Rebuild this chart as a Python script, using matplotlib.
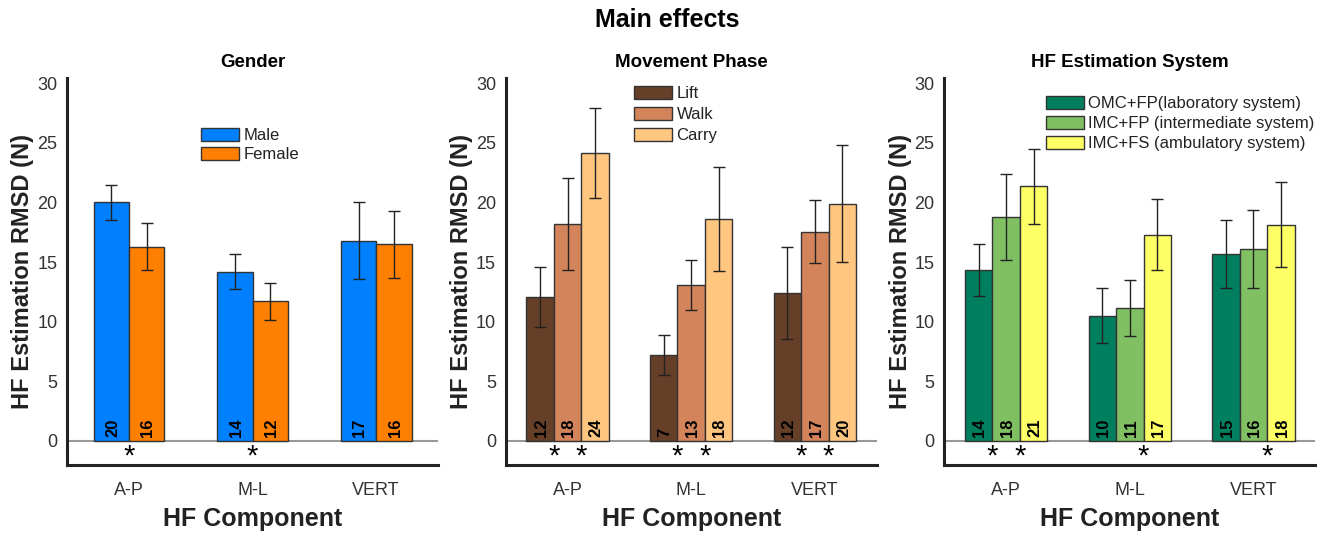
import matplotlib
matplotlib.use("Agg")
import matplotlib.pyplot as plt
import numpy as np

plt.rcParams['font.family'] = ['Liberation Sans', 'DejaVu Sans']

components = ["A-P", "M-L", "VERT"]

# Panel 1: Gender
gender_names = ["Male", "Female"]
gender_means = [[20.0, 14.2, 16.8], [16.3, 11.7, 16.5]]
gender_err = [[1.5, 1.5, 3.25], [2.0, 1.55, 2.8]]
gender_labels = [["20", "14", "17"], ["16", "12", "16"]]
gender_colors = ["#0080FF", "#FF8000"]
gender_sig = [(0, 0), (1, 0)]

# Panel 2: Movement phase
phase_names = ["Lift", "Walk", "Carry"]
phase_means = [[12.05, 7.2, 12.4], [18.2, 13.05, 17.55], [24.15, 18.6, 19.9]]
phase_err = [[2.5, 1.65, 3.9], [3.85, 2.1, 2.65], [3.8, 4.35, 4.9]]
phase_labels = [["12", "7", "12"], ["18", "13", "17"], ["24", "18", "20"]]
phase_colors = ["#653F28", "#D4845A", "#FFC67F"]
phase_sig = [(0, 0), (0, 1), (1, 0), (1, 1), (2, 0), (2, 1)]

# Panel 3: HF estimation system
system_names = ["OMC+FP(laboratory system)", "IMC+FP (intermediate system)",
                "IMC+FS (ambulatory system)"]
system_means = [[14.35, 10.5, 15.65], [18.75, 11.1, 16.1], [21.35, 17.3, 18.15]]
system_err = [[2.2, 2.3, 2.85], [3.6, 2.35, 3.25], [3.15, 3.0, 3.6]]
system_labels = [["14", "10", "15"], ["18", "11", "16"], ["21", "17", "18"]]
system_colors = ["#007F5F", "#80C063", "#FFFF66"]
system_sig = [(0, 0), (0, 1), (1, 1), (2, 1)]

yticks = [0, 5, 10, 15, 20, 25, 30]

fig = plt.figure(figsize=(13.35, 5.38), dpi=100)
fig.suptitle("Main effects", fontsize=18, fontweight='bold', y=0.985)

W, H = 1335.0, 538.0
panels = [
    (67, "Gender", gender_names, gender_means, gender_err, gender_labels, gender_colors, gender_sig, (0.361, 0.872), 0.22),
    (505.7, "Movement Phase", phase_names, phase_means, phase_err, phase_labels, phase_colors, phase_sig, (0.346, 0.98), 0.34),
    (944.3, "HF Estimation System", system_names, system_means, system_err, system_labels, system_colors, system_sig, (0.274, 0.954), 0.28),
]

x = np.arange(1, len(components) + 1)
for left, title, names, means, errs, labels, colors, sig, legpos, lsp in panels:
    ax = fig.add_axes([left / W, (H - 465) / H, 371 / W, 387 / H])
    n = len(names)
    gw = n / (n + 1.5)
    w = gw / n
    offsets = [(i - (n - 1) / 2) * w for i in range(n)]
    ax.axhline(0, color='#999999', lw=1.5, zorder=1)
    for i in range(n):
        xs = x + offsets[i]
        ax.bar(xs, means[i], width=w, color=colors[i], edgecolor='#333333',
               linewidth=1.0, label=names[i], zorder=2)
        ax.errorbar(xs, means[i], yerr=errs[i], fmt='none', ecolor='#222222',
                    elinewidth=1.0, capsize=4, capthick=1.0, zorder=3)
        for xv, lab in zip(xs, labels[i]):
            ax.text(xv + 0.01, 0.3, lab, rotation=90, ha='center', va='bottom',
                    fontsize=12, fontweight='bold', color='black', zorder=4)
    for g, b in sig:
        xb = x[g] + offsets[0] - w / 2 + (b + 1) * w
        ax.text(xb, -1.35, "*", ha='center', va='center', fontsize=21,
                color='black', zorder=4)
    ax.set_xlim(0.5, 3.5)
    ax.set_ylim(-2.04, 30.45)
    ax.set_yticks(yticks)
    ax.set_xticks(x)
    ax.set_xticklabels(components)
    ax.tick_params(axis='x', length=0, pad=12, labelsize=13, labelcolor='#333333')
    ax.tick_params(axis='y', length=0, pad=7, labelsize=13, labelcolor='#333333')
    for s in ['top', 'right']:
        ax.spines[s].set_visible(False)
    for s in ['left', 'bottom']:
        ax.spines[s].set_linewidth(2.2)
        ax.spines[s].set_color('#222222')
    ax.set_title(title, fontsize=13.5, fontweight='bold', pad=8)
    ax.set_ylabel("HF Estimation RMSD (N)", fontsize=17, fontweight='bold', color='#222222', labelpad=2)
    ax.set_xlabel("HF Component", fontsize=18, fontweight='bold', color='#222222', labelpad=6)
    leg = ax.legend(loc='upper left', bbox_to_anchor=legpos, frameon=False,
                    fontsize=12, handlelength=2.3, handleheight=0.85,
                    handletextpad=0.25, labelspacing=lsp, borderpad=0,
                    borderaxespad=0)
    for t in leg.get_texts():
        t.set_color('#222222')

fig.savefig("out.png", dpi=100)
